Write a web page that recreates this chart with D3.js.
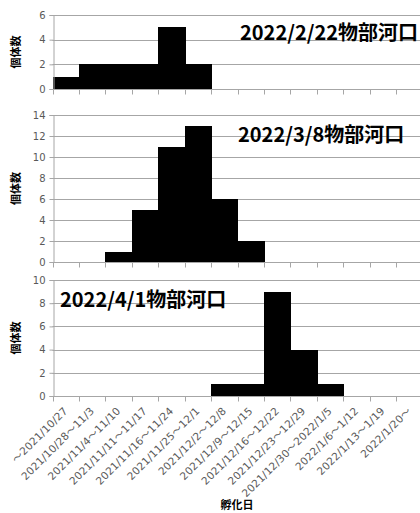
<!DOCTYPE html>
<html>
<head>
<meta charset="utf-8">
<script src="https://cdn.jsdelivr.net/npm/d3@7/dist/d3.min.js"></script>
<style>
  html, body { margin: 0; padding: 0; background: #fff; }
  svg { display: block; }
</style>
</head>
<body>
<svg id="chart" width="420" height="513"></svg>
<script>
// Hatch-date classes (weekly bins)
const categories = [
  "～2021/10/27", "2021/10/28～11/3", "2021/11/4～11/10", "2021/11/11～11/17",
  "2021/11/16～11/24", "2021/11/25～12/1", "2021/12/2～12/8", "2021/12/9～12/15",
  "2021/12/16～12/22", "2021/12/23～12/29", "2021/12/30～2022/1/5", "2022/1/6～1/12",
  "2022/1/13～1/19", "2022/1/20～"
];

// Individuals per hatch-date class, one array per sampling date
const counts20220222 = [1, 2, 2, 2, 5, 2, 0, 0, 0, 0, 0, 0, 0, 0];
const counts20220308 = [0, 0, 1, 5, 11, 13, 6, 2, 0, 0, 0, 0, 0, 0];
const counts20220401 = [0, 0, 0, 0, 0, 0, 1, 1, 9, 4, 1, 0, 0, 0];

const panelTitles = ["2022/2/22物部河口", "2022/3/8物部河口", "2022/4/1物部河口"];
const yTicks0222 = [0, 2, 4, 6];
const yTicks0308 = [0, 2, 4, 6, 8, 10, 12, 14];
const yTicks0401 = [0, 2, 4, 6, 8, 10];

const yLabel = "個体数";
const xLabel = "孵化日";

const svg = d3.select("#chart");
const gridColor = "#a6a6a6";
const textColor = "#595959";
const latin = "'DejaVu Sans', 'Noto Sans CJK JP', sans-serif";
const cjk = "'Noto Sans CJK JP', 'Noto Sans', sans-serif";

const x = d3.scaleBand()
  .domain(categories)
  .range([52.5, 422.5])
  .paddingInner(0)
  .paddingOuter(0);

// pixel-snapped bin edges
const edge = c => Math.round(x(c));
const edgeRight = c => Math.round(x(c) + x.bandwidth());

const panels = [
  { values: counts20220222, ticks: yTicks0222, top: 15, bottom: 89, title: panelTitles[0], tx: 240, ty: 33 },
  { values: counts20220308, ticks: yTicks0308, top: 115, bottom: 262, title: panelTitles[1], tx: 238, ty: 135 },
  { values: counts20220401, ticks: yTicks0401, top: 280, bottom: 396, title: panelTitles[2], tx: 60, ty: 300 }
];

panels.forEach((p, i) => {
  const yMax = d3.max(p.ticks);
  const y = d3.scaleLinear().domain([0, yMax]).range([p.bottom, p.top]);
  const g = svg.append("g");

  // horizontal gridlines
  g.selectAll("line.grid")
    .data(p.ticks.filter(t => t > 0))
    .join("line")
    .attr("class", "grid")
    .attr("x1", x.range()[0]).attr("x2", x.range()[1])
    .attr("y1", d => Math.round(y(d)) + 0.5).attr("y2", d => Math.round(y(d)) + 0.5)
    .attr("stroke", gridColor).attr("stroke-width", 1);

  // bars; each one overlaps the next bin by a pixel so the histogram reads as one block
  g.selectAll("rect.bar")
    .data(categories.map((c, j) => ({ c, v: p.values[j] })).filter(d => d.v > 0))
    .join("rect")
    .attr("class", "bar")
    .attr("x", d => edge(d.c))
    .attr("width", d => edgeRight(d.c) - edge(d.c) + 1)
    .attr("y", d => Math.round(y(d.v)))
    .attr("height", d => Math.round(y(0)) - Math.round(y(d.v)) + 1)
    .attr("fill", "#000")
    .attr("shape-rendering", "crispEdges");

  // y axis
  const yAxis = d3.axisLeft(y).tickValues(p.ticks).tickSize(4).tickPadding(4).tickFormat(d3.format("d"));
  const ya = g.append("g")
    .attr("transform", `translate(${Math.round(x.range()[0]) + 0.5},0)`)
    .call(yAxis);
  ya.select(".domain").attr("stroke", gridColor);
  ya.selectAll(".tick line").attr("stroke", gridColor);
  ya.selectAll(".tick text")
    .attr("fill", textColor)
    .style("font-family", latin)
    .style("font-size", "10px");

  // x axis with ticks at the bin edges
  const xa = g.append("g")
    .attr("transform", `translate(0,${Math.round(p.bottom) + 0.5})`);
  xa.append("line")
    .attr("x1", x.range()[0]).attr("x2", x.range()[1])
    .attr("stroke", gridColor);
  xa.selectAll("line.edge")
    .data(categories)
    .join("line")
    .attr("class", "edge")
    .attr("x1", d => edge(d) + 0.5).attr("x2", d => edge(d) + 0.5)
    .attr("y1", 0).attr("y2", 5)
    .attr("stroke", gridColor);

  // panel title
  g.append("text")
    .attr("x", p.tx).attr("y", p.ty)
    .attr("dy", "0.35em")
    .style("font-family", cjk)
    .style("font-weight", "bold")
    .style("font-size", "20px")
    .attr("fill", "#000")
    .text(p.title);

  // y axis title
  const cy = (p.top + p.bottom) / 2;
  g.append("text")
    .attr("transform", `translate(16,${cy}) rotate(-90)`)
    .attr("text-anchor", "middle")
    .attr("dy", "0.35em")
    .style("font-family", cjk)
    .style("font-weight", "bold")
    .style("font-size", "11px")
    .attr("fill", "#000")
    .text(yLabel);

  // category labels under the last panel only
  if (i === panels.length - 1) {
    g.selectAll("text.cat")
      .data(categories)
      .join("text")
      .attr("class", "cat")
      .attr("transform", d => `translate(${x(d) + x.bandwidth() / 2},${p.bottom + 13}) rotate(-45)`)
      .attr("text-anchor", "end")
      .attr("dy", "0.35em")
      .style("font-family", latin)
      .style("font-size", "10.5px")
      .style("letter-spacing", "0.2px")
      .attr("fill", textColor)
      .text(d => d);
  }
});

// x axis title
svg.append("text")
  .attr("x", 237).attr("y", 505)
  .attr("text-anchor", "middle")
  .attr("dy", "0.35em")
  .style("font-family", cjk)
  .style("font-weight", "bold")
  .style("font-size", "11px")
  .attr("fill", "#000")
  .text(xLabel);
</script>
</body>
</html>
